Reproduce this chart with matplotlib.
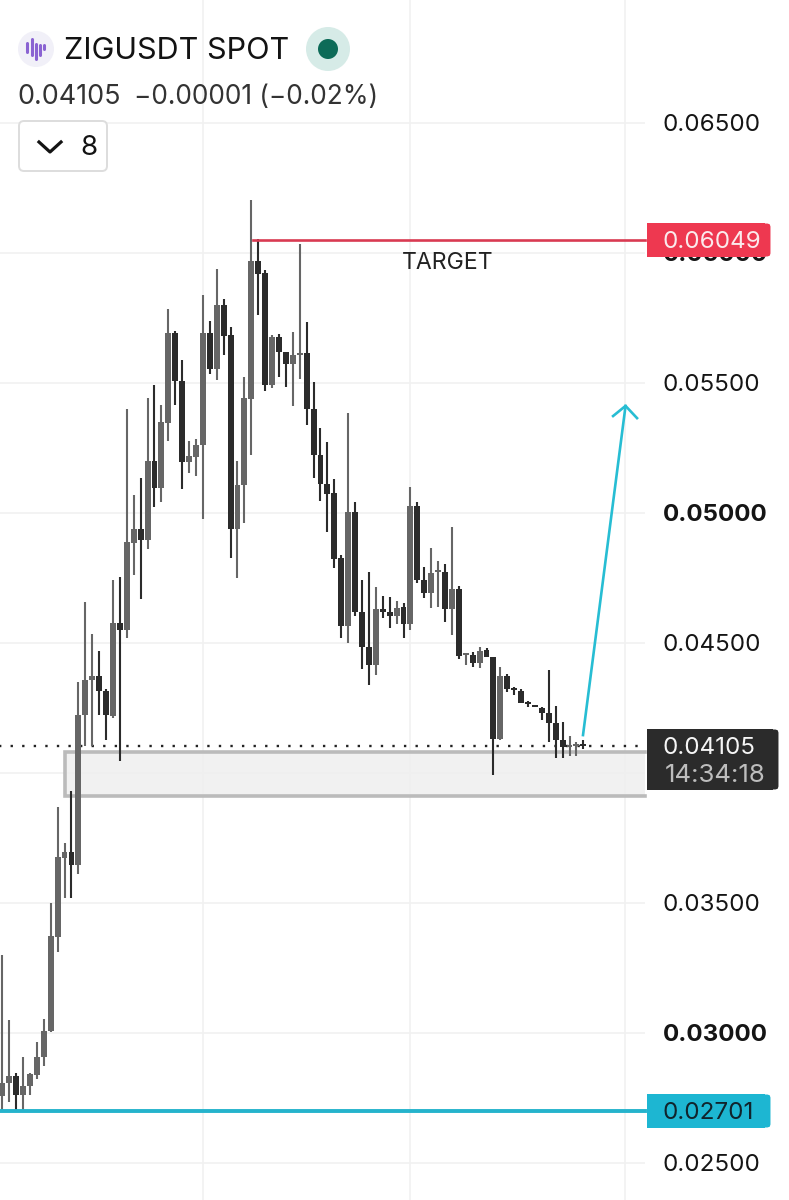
import numpy as np
import matplotlib
matplotlib.use("Agg")
import matplotlib.pyplot as plt
from matplotlib.patches import Circle, FancyBboxPatch, Rectangle

plt.rcParams['font.family'] = ['Inter', 'DejaVu Sans']

# daily candles
opens = [0.02758, 0.02808, 0.02835, 0.02762, 0.02796, 0.02839, 0.02908, 0.03008, 0.03369, 0.03673,
         0.03696, 0.03646, 0.04223, 0.04358, 0.04373, 0.04315, 0.04219, 0.04577, 0.04550, 0.04885,
         0.04938, 0.04896, 0.05200, 0.05096, 0.05346, 0.05692, 0.05508, 0.05196, 0.05215, 0.05262,
         0.05692, 0.05554, 0.05800, 0.05685, 0.04938, 0.05108, 0.05438, 0.05969, 0.05923, 0.05492,
         0.05677, 0.05619, 0.05573, 0.05608, 0.05615, 0.05400, 0.05223, 0.05112, 0.05077, 0.04827,
         0.04565, 0.05004, 0.04619, 0.04485, 0.04415, 0.04631, 0.04619, 0.04604, 0.04638, 0.04573,
         0.05027, 0.04742, 0.04692, 0.04773, 0.04773, 0.04631, 0.04708, 0.04454, 0.04454, 0.04423,
         0.04473, 0.04446, 0.04131, 0.04373, 0.04327, 0.04315, 0.04269, 0.04262, 0.04250, 0.04231,
         0.04192, 0.04127, 0.04100, 0.04104, 0.04106]
highs = [0.03300, 0.03050, 0.02846, 0.02908, 0.02846, 0.02965, 0.03054, 0.03500, 0.03869, 0.03731,
         0.03931, 0.04350, 0.04658, 0.04535, 0.04469, 0.04323, 0.04742, 0.04754, 0.05400, 0.05069,
         0.05135, 0.05442, 0.05492, 0.05415, 0.05785, 0.05700, 0.05588, 0.05277, 0.05285, 0.05838,
         0.05738, 0.05938, 0.05823, 0.05715, 0.05200, 0.05523, 0.06204, 0.06054, 0.05935, 0.05685,
         0.05688, 0.05619, 0.05696, 0.06035, 0.05735, 0.05504, 0.05327, 0.05273, 0.05131, 0.04838,
         0.05385, 0.05042, 0.04742, 0.04773, 0.04715, 0.04681, 0.04677, 0.04662, 0.04654, 0.05100,
         0.05042, 0.04792, 0.04865, 0.04815, 0.04804, 0.04946, 0.04719, 0.04462, 0.04465, 0.04485,
         0.04481, 0.04446, 0.04408, 0.04381, 0.04331, 0.04323, 0.04277, 0.04262, 0.04254, 0.04396,
         0.04258, 0.04196, 0.04142, 0.04119, 0.04127]
lows = [0.02704, 0.02735, 0.02704, 0.02704, 0.02762, 0.02823, 0.02873, 0.03004, 0.03312, 0.03519,
        0.03519, 0.03612, 0.04104, 0.04104, 0.04223, 0.04127, 0.04212, 0.04046, 0.04519, 0.04762,
        0.04669, 0.04862, 0.05023, 0.05042, 0.05277, 0.05415, 0.05092, 0.05154, 0.05142, 0.04977,
        0.05535, 0.05512, 0.05608, 0.04827, 0.04750, 0.04962, 0.05223, 0.05762, 0.05469, 0.05481,
        0.05523, 0.05485, 0.05412, 0.05515, 0.05338, 0.05135, 0.05046, 0.04927, 0.04788, 0.04519,
        0.04500, 0.04604, 0.04400, 0.04338, 0.04377, 0.04596, 0.04558, 0.04573, 0.04519, 0.04550,
        0.04731, 0.04673, 0.04635, 0.04638, 0.04581, 0.04531, 0.04438, 0.04415, 0.04408, 0.04404,
        0.04446, 0.03992, 0.04127, 0.04312, 0.04300, 0.04269, 0.04254, 0.04254, 0.04204, 0.04119,
        0.04058, 0.04058, 0.04065, 0.04065, 0.04092]
closes = [0.02808, 0.02835, 0.02762, 0.02796, 0.02842, 0.02908, 0.03008, 0.03373, 0.03677, 0.03696,
          0.03646, 0.04223, 0.04358, 0.04373, 0.04315, 0.04223, 0.04577, 0.04550, 0.04888, 0.04938,
          0.04896, 0.05200, 0.05096, 0.05350, 0.05692, 0.05508, 0.05196, 0.05219, 0.05262, 0.05692,
          0.05554, 0.05800, 0.05681, 0.04938, 0.05108, 0.05442, 0.05969, 0.05919, 0.05492, 0.05677,
          0.05619, 0.05573, 0.05608, 0.05615, 0.05400, 0.05223, 0.05112, 0.05073, 0.04823, 0.04565,
          0.05004, 0.04619, 0.04485, 0.04415, 0.04631, 0.04619, 0.04604, 0.04635, 0.04573, 0.05027,
          0.04742, 0.04692, 0.04769, 0.04777, 0.04631, 0.04708, 0.04450, 0.04458, 0.04423, 0.04469,
          0.04446, 0.04131, 0.04373, 0.04323, 0.04319, 0.04269, 0.04265, 0.04254, 0.04231, 0.04192,
          0.04127, 0.04100, 0.04104, 0.04108, 0.04105]

price_ticks = [0.065, 0.06, 0.055, 0.05, 0.045, 0.04, 0.035, 0.03, 0.025]
tick_labels = ['0.06500', '0.06000', '0.05500', '0.05000', '0.04500', '', '0.03500', '0.03000', '0.02500']
bold_labels = ['0.06000', '0.05000', '0.03000']
month_ticks = [29, 59, 90]

target_price = 0.06049
support_price = 0.02701
last_price = 0.04105
zone_top = 0.04081
zone_bottom = 0.03912
zone_start = 9.06
target_start = 36.2
arrow_x = [83.95, 90.1]
arrow_y = [0.04146, 0.05412]
arrow_head_x = [88.3, 90.1, 91.76]
arrow_head_y = [0.05373, 0.05412, 0.05365]
right_end = 92.9

UP = '#666666'
DOWN = '#2b2b2b'
GRID = '#f1f1f1'
BLUE = '#25b3cc'
RED = '#d93a52'

fig = plt.figure(figsize=(7.89, 12), dpi=100, facecolor='white')
ax = fig.add_axes([0, 0, 1, 1])
ax.set_xlim(-0.3325, 113.73)
ax.set_ylim(0.02358, 0.06973)
ax.axis('off')

# grid
ax.hlines(price_ticks, ax.get_xlim()[0], right_end, color=GRID, lw=1.2, zorder=1)
ax.vlines(month_ticks, 0.02358, 0.06973, color=GRID, lw=1.2, zorder=1)

# support zone
ax.add_patch(Rectangle((zone_start, zone_bottom), right_end - zone_start, zone_top - zone_bottom,
                       facecolor='#efefef', alpha=0.85, edgecolor='none', zorder=2))
ax.plot([right_end, zone_start, zone_start, right_end],
        [zone_top, zone_top, zone_bottom, zone_bottom],
        color='#bbbbbb', lw=2.6, solid_joinstyle='miter', zorder=2)

# candles
o = np.array(opens)
c = np.array(closes)
colors = [UP if b >= a else DOWN for a, b in zip(opens, closes)]
idx = np.arange(len(opens))
ax.vlines(idx, lows, highs, color=colors, lw=1.5, zorder=4)
ax.bar(idx, np.maximum(np.abs(c - o), 0.00008), bottom=np.minimum(o, c), width=0.85,
       color=colors, linewidth=0, zorder=5)

# drawn lines
ax.plot([-1, right_end], [last_price, last_price], color='#222222', lw=1.7,
        linestyle=(0, (1, 3.9)), zorder=3)
ax.plot([target_start, right_end], [target_price, target_price], color=RED, lw=1.9, zorder=6)
ax.plot([-1, right_end], [support_price, support_price], color=BLUE, lw=2.8, zorder=6)
ax.plot(arrow_x, arrow_y, color='#27bdd3', lw=1.9, zorder=6)
ax.plot(arrow_head_x, arrow_head_y, color='#27bdd3', lw=1.9, zorder=6)

# everything from here on is the app's interface, placed in pixels
ui = fig.add_axes([0, 0, 1, 1])
ui.set_xlim(0, 789)
ui.set_ylim(1200, 0)
ui.axis('off')
ui.patch.set_alpha(0)

for price, label in zip(price_ticks, tick_labels):
    if label == '':
        continue
    y = 515 + (0.05 - price) * 26000
    weight = 'bold' if label in bold_labels else 'normal'
    ui.text(663, y, label, fontsize=17.4, color='#151515', weight=weight, va='center', ha='left', zorder=2)


def price_box(x0, y0, x1, y1, color):
    ui.add_patch(Rectangle((x0, y0), x1 - x0 - 6, y1 - y0, facecolor=color, edgecolor='none', zorder=3))
    ui.add_patch(FancyBboxPatch((x0 + 8, y0 + 4), x1 - x0 - 12, y1 - y0 - 8,
                                boxstyle='round,pad=0,rounding_size=0.1', mutation_scale=1,
                                facecolor=color, edgecolor=color, lw=5, zorder=3))


price_box(647, 223, 771, 257, '#ee3850')
price_box(647, 1094, 771, 1128, '#1db6d2')
price_box(647, 729, 779, 790, '#2b2b2b')
ui.text(663, 242, '0.06049', fontsize=17.4, color='#fbeaec', va='center', zorder=4)
ui.text(663, 1113, '0.02701', fontsize=17.4, color='#10242c', va='center', zorder=4)
ui.text(663, 748, '0.04105', fontsize=17.4, color='#f5f5f5', va='center', zorder=4)
ui.text(665, 776, '14:34:18', fontsize=18.6, color='#bdbdbd', va='center', zorder=4)

ui.text(402, 263, 'TARGET', fontsize=16.6, color='#222222', va='center', zorder=4)

# header
ui.add_patch(Circle((36, 49), 18, facecolor='#f1f0f8', edgecolor='none'))
for x, y0, y1 in [(27.3, 43, 52), (31.7, 39, 55), (36, 44, 59), (40, 45, 55), (44.3, 45, 49)]:
    ui.plot([x, x], [y0, y1], color='#8a63d2', lw=2.2, solid_capstyle='round')
ui.text(64, 51, 'ZIGUSDT SPOT', fontsize=22, color='#131313', va='center')
ui.add_patch(Circle((328, 49), 22, facecolor='#d6ebe7', edgecolor='none'))
ui.add_patch(Circle((328, 49), 10, facecolor='#0d6b58', edgecolor='none'))
ui.text(17, 97, '0.04105', fontsize=19.4, color='#333333', va='center')
ui.text(134, 97, '\u22120.00001 (\u22120.02%)', fontsize=18.9, color='#333333', va='center')
ui.add_patch(FancyBboxPatch((19, 121), 88, 50, boxstyle='round,pad=0,rounding_size=5', mutation_scale=1,
                            facecolor='white', edgecolor='#dddddd', lw=1.4, zorder=3))
ui.plot([39, 50, 61], [142, 152, 142], color='#131313', lw=2.3, zorder=4)
ui.text(89, 148, '8', fontsize=20, color='#131313', va='center', ha='center', zorder=4)

plt.savefig('out.png', dpi=100)
